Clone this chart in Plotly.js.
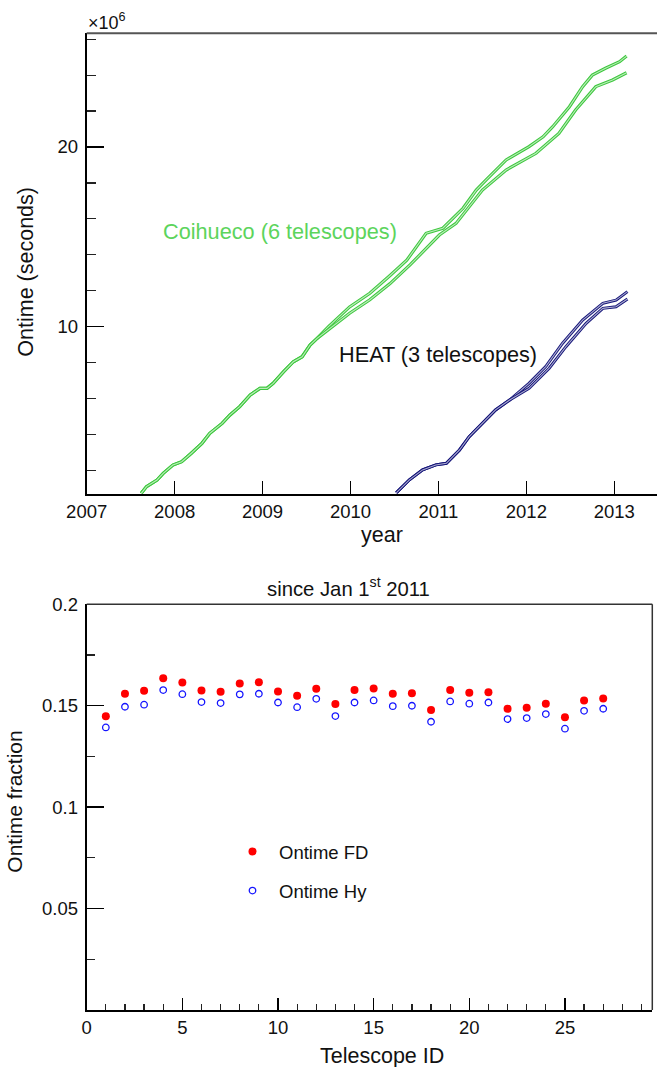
<!DOCTYPE html>
<html>
<head>
<meta charset="utf-8">
<script src="https://cdn.plot.ly/plotly-3.0.1.min.js"></script>
<style>
html,body{margin:0;padding:0;overflow:hidden;background:#fff;}
#chart{width:700px;height:1067px;}
</style>
</head>
<body>
<div id="chart"></div>
<script>
// ---------------- DATA ----------------
// Cumulative ontime, units of 10^6 seconds
const coihuecoUpperYear = [2007.62,2007.68,2007.80,2007.87,2007.98,2008.08,2008.19,2008.31,2008.40,2008.54,2008.63,2008.74,2008.86,2008.97,2009.05,2009.12,2009.24,2009.35,2009.45,2009.54,2009.62,2009.75,2009.99,2010.22,2010.45,2010.64,2010.86,2011.05,2011.28,2011.43,2011.54,2011.77,2012.03,2012.19,2012.30,2012.49,2012.64,2012.75,2012.90,2013.06,2013.14];
const coihuecoUpperOntime = [0.73,1.10,1.47,1.84,2.30,2.49,2.96,3.51,4.07,4.62,5.09,5.55,6.20,6.57,6.57,6.85,7.50,8.05,8.33,8.98,9.35,10.00,11.10,11.86,12.85,13.70,15.20,15.48,16.59,17.60,18.16,19.28,20.02,20.57,21.13,22.24,23.36,24.00,24.38,24.75,25.06];

const coihuecoLowerYear = [2007.62,2007.68,2007.80,2007.87,2007.98,2008.08,2008.19,2008.31,2008.40,2008.54,2008.63,2008.74,2008.86,2008.97,2009.05,2009.12,2009.24,2009.35,2009.45,2009.54,2009.62,2009.75,2009.99,2010.22,2010.45,2010.68,2011.01,2011.20,2011.35,2011.50,2011.77,2012.11,2012.37,2012.56,2012.79,2012.98,2013.14];
const coihuecoLowerOntime = [0.73,1.10,1.47,1.84,2.30,2.49,2.96,3.51,4.07,4.62,5.09,5.55,6.20,6.57,6.57,6.85,7.50,8.05,8.33,8.98,9.35,9.85,10.75,11.50,12.40,13.45,15.10,15.75,16.68,17.60,18.72,19.65,20.76,22.06,23.36,23.73,24.13];

const heatUpperYear = [2010.52,2010.67,2010.82,2010.97,2011.09,2011.24,2011.35,2011.50,2011.65,2011.81,2012.03,2012.22,2012.41,2012.64,2012.87,2013.02,2013.15];
const heatUpperOntime = [0.75,1.48,2.03,2.31,2.40,3.14,3.88,4.62,5.37,5.92,6.85,7.78,9.07,10.37,11.30,11.48,11.95];

const heatLowerYear = [2010.52,2010.67,2010.82,2010.97,2011.09,2011.24,2011.35,2011.50,2011.65,2011.81,2012.03,2012.26,2012.45,2012.68,2012.87,2013.02,2013.15];
const heatLowerOntime = [0.75,1.48,2.03,2.31,2.40,3.14,3.88,4.62,5.37,5.92,6.57,7.69,8.89,10.19,11.02,11.11,11.54];

const yearTicks = [2007,2008,2009,2010,2011,2012,2013];
const ontimeTicks = [10,20];

// Ontime fraction since Jan 1st 2011
const telescopeId = [1,2,3,4,5,6,7,8,9,10,11,12,13,14,15,16,17,18,19,20,21,22,23,24,25,26,27];
const ontimeFD = [0.1448,0.1559,0.1574,0.1636,0.1615,0.1575,0.1569,0.1610,0.1616,0.1570,0.1549,0.1584,0.1508,0.1577,0.1585,0.1559,0.1561,0.1479,0.1577,0.1564,0.1567,0.1485,0.1490,0.1510,0.1443,0.1526,0.1536];
const ontimeHy = [0.1393,0.1495,0.1505,0.1577,0.1557,0.1518,0.1513,0.1556,0.1559,0.1516,0.1493,0.1534,0.1449,0.1516,0.1526,0.1498,0.1500,0.1421,0.1521,0.1510,0.1516,0.1434,0.1439,0.1459,0.1387,0.1475,0.1485];
const fractionTicks = [0.05,0.1,0.15,0.2];
const idTicks = [0,5,10,15,20,25];

// ---------------- LAYOUT HELPERS ----------------
const W = 700, H = 1067;
const PX = v => v / W;
const PY = v => 1 - v / H;
const FONT = 'Liberation Sans, Arial, Helvetica, sans-serif';
const GREEN = 'rgb(62,200,62)';
const GREEN_TXT = 'rgb(92,212,92)';
const NAVY = 'rgb(22,22,122)';

function doubleLine(x, y, color, w) {
  return [
    {x: x, y: y, type: 'scatter', mode: 'lines', xaxis: 'x', yaxis: 'y',
     line: {color: color, width: w}, showlegend: false, hoverinfo: 'skip'},
    {x: x, y: y, type: 'scatter', mode: 'lines', xaxis: 'x', yaxis: 'y',
     line: {color: 'rgba(255,255,255,0.65)', width: w * 0.35}, showlegend: false, hoverinfo: 'skip'}
  ];
}

const traces = [].concat(
  doubleLine(coihuecoUpperYear, coihuecoUpperOntime, GREEN, 3.2),
  doubleLine(coihuecoLowerYear, coihuecoLowerOntime, GREEN, 3.2),
  doubleLine(heatUpperYear, heatUpperOntime, NAVY, 3.0),
  doubleLine(heatLowerYear, heatLowerOntime, NAVY, 3.0),
  [
    {x: telescopeId, y: ontimeFD, type: 'scatter', mode: 'markers', name: 'Ontime FD',
     xaxis: 'x2', yaxis: 'y2', legendgroup: 'fd',
     marker: {color: 'rgb(255,0,0)', size: 8, symbol: 'circle'}},
    {x: telescopeId, y: ontimeHy, type: 'scatter', mode: 'markers', name: 'Ontime Hy',
     xaxis: 'x2', yaxis: 'y2', legendgroup: 'hy',
     marker: {color: 'rgb(20,20,255)', size: 6.5, symbol: 'circle-open', line: {width: 1.3, color: 'rgb(20,20,255)'}}}
  ]
);

const topL = 86.7, topR = 680, topT = 33.3, topB = 493.7;
const botL = 86.7, botR = 652.3, botT = 604.3, botB = 1010;
const pxPerYear = 87.93;
const pxPerMs = 17.97;

const axisCommon = {
  showline: true, linecolor: '#000', linewidth: 2, showgrid: false, zeroline: false,
  ticks: 'inside', tickcolor: '#000', tickfont: {family: FONT, size: 18.5, color: '#111'},
  fixedrange: true
};

const layout = {
  width: W, height: H, autosize: false,
  margin: {l: 0, r: 0, t: 0, b: 0, pad: 0},
  paper_bgcolor: '#fff', plot_bgcolor: '#fff',
  font: {family: FONT, color: '#111'},
  showlegend: true,
  legend: {
    x: PX(226), y: PY(833), xanchor: 'left', yanchor: 'top',
    font: {family: FONT, size: 18.5, color: '#111'},
    itemwidth: 43, traceorder: 'grouped', tracegroupgap: 12,
    bgcolor: 'rgba(0,0,0,0)', borderwidth: 0
  },
  xaxis: Object.assign({}, axisCommon, {
    domain: [PX(topL), PX(topR)], anchor: 'y',
    range: [2007, 2007 + (topR - topL) / pxPerYear],
    tickmode: 'array', tickvals: yearTicks, ticktext: yearTicks.map(String),
    ticklen: 13, tickwidth: 1.5, ticklabelstandoff: 0
  }),
  yaxis: Object.assign({}, axisCommon, {
    domain: [PY(topB), PY(topT)], anchor: 'x',
    range: [10 - (topB - 326.7) / pxPerMs, 20 + (147 - topT) / pxPerMs],
    tickmode: 'array', tickvals: ontimeTicks, ticktext: ontimeTicks.map(String),
    ticklen: 17, tickwidth: 1.5, ticklabelstandoff: 3,
    minor: {tickmode: 'linear', tick0: 0, dtick: 2, ticklen: 9, tickwidth: 1.2, tickcolor: '#222', ticks: 'inside'}
  }),
  xaxis2: Object.assign({}, axisCommon, {
    domain: [PX(botL), PX(botR)], anchor: 'y2',
    range: [0, (botR - botL) / 19.13],
    tickmode: 'array', tickvals: idTicks, ticktext: idTicks.map(String),
    ticklen: 12, tickwidth: 1.5, ticklabelstandoff: 0,
    minor: {tickmode: 'linear', tick0: 0, dtick: 1, ticklen: 6, tickwidth: 1.2, tickcolor: '#222', ticks: 'inside'}
  }),
  yaxis2: Object.assign({}, axisCommon, {
    domain: [PY(botB), PY(botT)], anchor: 'x2',
    range: [0, 0.2],
    tickmode: 'array', tickvals: fractionTicks, ticktext: fractionTicks.map(String),
    ticklen: 17, tickwidth: 1.5, ticklabelstandoff: 3,
    minor: {tickmode: 'linear', tick0: 0, dtick: 0.025, ticklen: 8.5, tickwidth: 1.2, tickcolor: '#222', ticks: 'inside'}
  }),
  shapes: [
    {type: 'line', xref: 'paper', yref: 'paper', x0: PX(topL), x1: 1, y0: PY(topT), y1: PY(topT),
     line: {color: '#555', width: 2}},
    {type: 'line', xref: 'paper', yref: 'paper', x0: PX(botL), x1: PX(botR), y0: PY(botT), y1: PY(botT),
     line: {color: '#333', width: 1.5}},
    {type: 'line', xref: 'paper', yref: 'paper', x0: PX(botR), x1: PX(botR), y0: PY(botB), y1: PY(botT),
     line: {color: '#333', width: 1.5}}
  ],
  annotations: [
    {text: '×10<sup>6</sup>', xref: 'paper', yref: 'paper', x: PX(86), y: PY(21), xanchor: 'left', yanchor: 'middle',
     showarrow: false, font: {family: FONT, size: 18, color: '#111'}},
    {text: 'Coihueco (6 telescopes)', xref: 'paper', yref: 'paper', x: PX(161), y: PY(231.5), xanchor: 'left', yanchor: 'middle',
     showarrow: false, font: {family: FONT, size: 21.7, color: GREEN_TXT}},
    {text: 'HEAT (3 telescopes)', xref: 'paper', yref: 'paper', x: PX(337), y: PY(354), xanchor: 'left', yanchor: 'middle',
     showarrow: false, font: {family: FONT, size: 21.7, color: '#111'}},
    {text: 'year', xref: 'paper', yref: 'paper', x: PX(382.5), y: PY(535), xanchor: 'center', yanchor: 'middle',
     showarrow: false, font: {family: FONT, size: 21.5, color: '#111'}},
    {text: 'Ontime (seconds)', xref: 'paper', yref: 'paper', x: PX(26), y: PY(271.7), xanchor: 'center', yanchor: 'middle',
     textangle: -90, showarrow: false, font: {family: FONT, size: 21.5, color: '#111'}},
    {text: 'since Jan 1<sup>st</sup> 2011', xref: 'paper', yref: 'paper', x: PX(348.3), y: PY(587), xanchor: 'center', yanchor: 'middle',
     showarrow: false, font: {family: FONT, size: 20.3, color: '#111'}},
    {text: 'Telescope ID', xref: 'paper', yref: 'paper', x: PX(381.7), y: PY(1056), xanchor: 'center', yanchor: 'middle',
     showarrow: false, font: {family: FONT, size: 21.5, color: '#111'}},
    {text: 'Ontime fraction', xref: 'paper', yref: 'paper', x: PX(15), y: PY(801.7), xanchor: 'center', yanchor: 'middle',
     textangle: -90, showarrow: false, font: {family: FONT, size: 21, color: '#111'}}
  ]
};

Plotly.newPlot('chart', traces, layout, {displayModeBar: false, staticPlot: true});
</script>
</body>
</html>
